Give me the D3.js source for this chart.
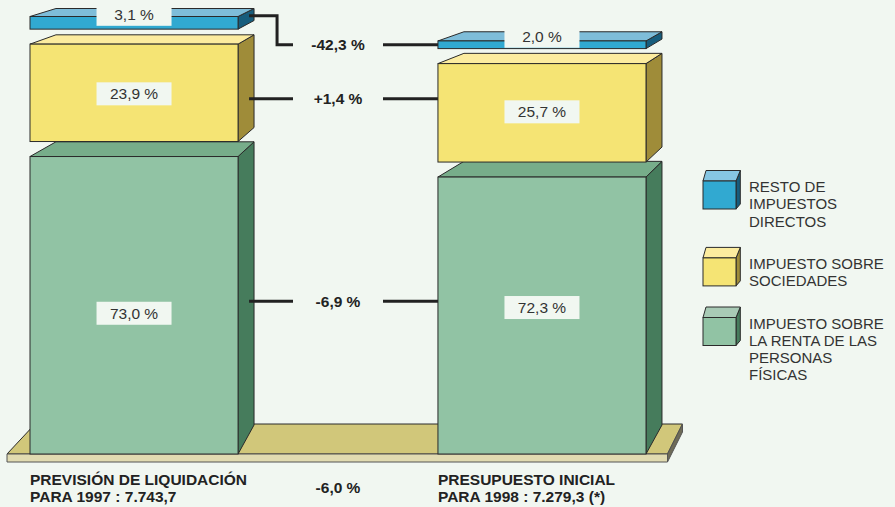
<!DOCTYPE html>
<html><head><meta charset="utf-8">
<script src="https://cdn.jsdelivr.net/npm/d3@7"></script>
<style>
html,body{margin:0;padding:0;background:#f1f7f1;}
svg{display:block;font-family:"Liberation Sans",Arial,Helvetica,sans-serif;}
</style>
</head><body>
<svg id="c" width="895" height="507"></svg>
<script>
// ---------------- DATA ----------------
const categories = ["PREVISIÓN DE LIQUIDACIÓN", "PRESUPUESTO INICIAL"];
const categorySub = ["PARA 1997 : 7.743,7", "PARA 1998 : 7.279,3 (*)"];
const totals = [7743.7, 7279.3];
const seriesNames = ["IMPUESTO SOBRE LA RENTA DE LAS PERSONAS FÍSICAS", "IMPUESTO SOBRE SOCIEDADES", "RESTO DE IMPUESTOS DIRECTOS"];
const irpfShare = [73.0, 72.3];
const sociedadesShare = [23.9, 25.7];
const restoShare = [3.1, 2.0];
const changeLabels = ["-6,9 %", "+1,4 %", "-42,3 %"];
const totalChangeLabel = "-6,0 %";
const legendOrder = [2, 1, 0];
const legendLines = [["IMPUESTO SOBRE", "LA RENTA DE LAS", "PERSONAS", "FÍSICAS"], ["IMPUESTO SOBRE", "SOCIEDADES"], ["RESTO DE", "IMPUESTOS", "DIRECTOS"]];

// ---------------- STYLE / LAYOUT ----------------
const shares = [irpfShare, sociedadesShare, restoShare]; // bottom -> top
const colors = [
  {front: "#91c3a4", top: "#77ad8a", side: "#467c5c", legendTop: "#a8cab5"},
  {front: "#f5e474", top: "#fcec9f", side: "#9f8c39", legendTop: "#fcec9f"},
  {front: "#31a9d1", top: "#7ebdd9", side: "#175d7d", legendTop: "#86c6e3"}
];
const ink = "#2a2a2a";
const bg = "#f1f7f1";
const locale = d3.formatLocale({decimal: ",", thousands: ".", grouping: [3], currency: ["", ""]});
const fmt = d3.format ? locale.format(".1f") : null;

const svg = d3.select("#c");
const baseY = 454, gap = 15;
const x = d3.scaleBand().domain(d3.range(categories.length)).range([30, 646]).paddingInner(0.49).paddingOuter(0);
const bw = x.bandwidth();
const h = d3.scaleLinear().domain([0, totals[0]]).range([0, 407.5]);

// per-bar perspective
const k = 0.048, vxOff = 541, vy = -150;
function backFn(x1) {
  const vx = x1 + vxOff;
  return (px, py) => [px + (vx - px) * k, py + (vy - py) * k];
}
const line = d3.line();

// ---------------- FLOOR ----------------
const fl = x(0) - 23, fr = x(1) + bw + 21.5, fb = baseY - 30, thick = 8;
const floor = svg.append("g");
floor.append("path").attr("d", line([[fl, baseY], [fr, baseY], [fr + 15, fb], [fl + 28, fb]]) + "Z")
  .attr("fill", "#d1c77a").attr("stroke", ink).attr("stroke-width", 1);
floor.append("path").attr("d", line([[fl, baseY], [fr, baseY], [fr, baseY + thick], [fl, baseY + thick]]) + "Z")
  .attr("fill", "#e1dbb1").attr("stroke", "#555", "stroke-width", 1).attr("stroke-width", 1);
floor.append("path").attr("d", line([[fr, baseY], [fr + 15, fb], [fr + 15, fb + thick], [fr, baseY + thick]]) + "Z")
  .attr("fill", "#6e6b57").attr("stroke", "#555").attr("stroke-width", 1);

// ---------------- BARS ----------------
const segs = []; // segs[bar][series] = {yt, yb, x1, x2}
categories.forEach((c, i) => {
  const g = svg.append("g");
  const x1 = x(i), x2 = x1 + bw, back = backFn(x1);
  let y = baseY;
  segs[i] = [];
  shares.forEach((s, j) => {
    const hh = h(s[i] / 100 * totals[i]);
    const yb = y, yt = y - hh;
    segs[i][j] = {x1, x2, yt, yb};
    const col = colors[j];
    g.append("path").attr("d", line([[x2, yt], back(x2, yt), back(x2, yb), [x2, yb]]) + "Z")
      .attr("fill", col.side).attr("stroke", ink).attr("stroke-width", 1).attr("stroke-linejoin", "round");
    g.append("path").attr("d", line([[x1, yt], [x2, yt], back(x2, yt), back(x1, yt)]) + "Z")
      .attr("fill", col.top).attr("stroke", ink).attr("stroke-width", 1).attr("stroke-linejoin", "round");
    g.append("rect").attr("x", x1).attr("y", yt).attr("width", bw).attr("height", hh)
      .attr("fill", col.front).attr("stroke", ink).attr("stroke-width", 1);
    y = yt - gap;
  });
});

// value labels
const labelNudge = [[8, -8], [1, -1], [-8.5, -8.5]];
categories.forEach((c, i) => {
  shares.forEach((s, j) => {
    const sg = segs[i][j];
    const cx = (sg.x1 + sg.x2) / 2, cy = (sg.yt + sg.yb) / 2 + labelNudge[j][i];
    svg.append("rect").attr("x", cx - 37.5).attr("y", cy - 11.5).attr("width", 75).attr("height", 23).attr("fill", bg);
    svg.append("text").attr("x", cx).attr("y", cy).attr("dy", "0.36em").attr("text-anchor", "middle")
      .attr("font-size", 15.5).attr("fill", "#333").text(fmt(s[i]) + " %");
  });
});

// ---------------- CONNECTORS ----------------
const midX = (segs[0][0].x2 + segs[1][0].x1) / 2;
const half = 45;
const startX = segs[0][0].x2 + 11, endX = segs[1][0].x1;
const conn = svg.append("g").attr("stroke", "#222").attr("stroke-width", 3).attr("fill", "none");
const connDy = [-4, 6];
[0, 1].forEach(j => {
  const sg = segs[0][j];
  const yy = (sg.yt + sg.yb) / 2 + connDy[j];
  conn.append("path").attr("d", line([[startX, yy], [midX - half, yy]]));
  conn.append("path").attr("d", line([[midX + half, yy], [endX, yy]]));
  svg.append("text").attr("x", midX).attr("y", yy).attr("dy", "0.36em").attr("text-anchor", "middle")
    .attr("font-size", 15.5).attr("font-weight", "bold").attr("fill", "#222").text(changeLabels[j]);
});
{
  const a = segs[0][2], b = segs[1][2];
  const y1 = (a.yt + a.yb) / 2 - 7, y2 = (b.yt + b.yb) / 2;
  const elbow = startX + 28;
  conn.append("path").attr("d", line([[startX, y1], [elbow, y1], [elbow, y2], [midX - half, y2]]));
  conn.append("path").attr("d", line([[midX + half, y2], [endX, y2]]));
  svg.append("text").attr("x", midX).attr("y", y2).attr("dy", "0.36em").attr("text-anchor", "middle")
    .attr("font-size", 15.5).attr("font-weight", "bold").attr("fill", "#222").text(changeLabels[2]);
}

// ---------------- CATEGORY LABELS ----------------
categories.forEach((c, i) => {
  const t = svg.append("text").attr("x", x(i)).attr("y", 485).attr("font-size", 15.5)
    .attr("font-weight", "bold").attr("fill", "#222");
  t.append("tspan").attr("x", x(i)).text(c);
  t.append("tspan").attr("x", x(i)).attr("dy", 16.7).text(categorySub[i]);
});
svg.append("text").attr("x", midX).attr("y", 493).attr("text-anchor", "middle").attr("font-size", 15.5)
  .attr("font-weight", "bold").attr("fill", "#222").text(totalChangeLabel);

// ---------------- LEGEND ----------------
const lg = svg.append("g");
let ly = 192;
legendOrder.forEach((j, n) => {
  const lines = legendLines[j];
  const col = colors[j];
  const cx1 = 703, cx2 = 736, cyt = ly - 11, cyb = cyt + 28;
  lg.append("path").attr("d", line([[cx2, cyt], [cx2 + 4.3, cyt - 10.5], [cx2 + 4.3, cyb - 5], [cx2, cyb]]) + "Z")
    .attr("fill", col.side).attr("stroke", ink).attr("stroke-width", 1);
  lg.append("path").attr("d", line([[cx1, cyt], [cx2, cyt], [cx2 + 4.3, cyt - 10.5], [cx1 + 3, cyt - 10.5]]) + "Z")
    .attr("fill", col.legendTop).attr("stroke", ink).attr("stroke-width", 1);
  lg.append("rect").attr("x", cx1).attr("y", cyt).attr("width", cx2 - cx1).attr("height", cyb - cyt)
    .attr("fill", col.front).attr("stroke", ink).attr("stroke-width", 1);
  const t = lg.append("text").attr("x", 749).attr("y", ly).attr("font-size", 15).attr("fill", "#333");
  lines.forEach((l, m) => t.append("tspan").attr("x", 749).attr("dy", m === 0 ? 0 : 17.3).text(l));
  ly += lines.length * 17.3 + 25;
});
</script>
</body></html>
